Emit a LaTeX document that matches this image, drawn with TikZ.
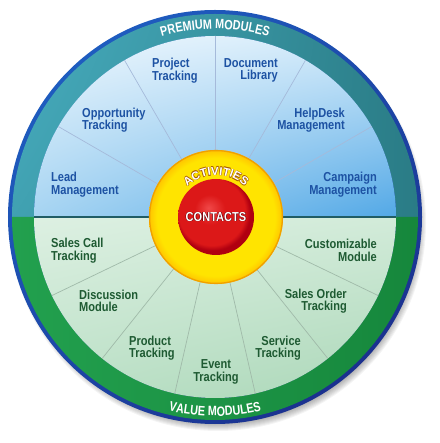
\documentclass[tikz,border=0pt]{standalone}
\usepackage{fontspec}
\setmainfont{Liberation Sans}
\newfontfamily\labfont{Liberation Sans}[FakeStretch=0.85]
\newfontfamily\ringfont{Liberation Sans}[FakeStretch=0.8]
\usetikzlibrary{decorations.text,calc,shadings}
\definecolor{topblue}{HTML}{1D52A3}
\definecolor{botgreen}{HTML}{1E5A32}
\definecolor{bordA}{HTML}{1F64C8}
\definecolor{bordB}{HTML}{1A2784}
\definecolor{tealA}{HTML}{48AEC0}
\definecolor{tealB}{HTML}{2A7C86}
\definecolor{greenA}{HTML}{22A04E}
\definecolor{greenB}{HTML}{16873C}
\definecolor{skyUL}{HTML}{EEF7FD}
\definecolor{skyUR}{HTML}{D2EAFA}
\definecolor{skyLL}{HTML}{A6D4F2}
\definecolor{skyLR}{HTML}{52A8E6}
\definecolor{mintUL}{HTML}{DDF0E2}
\definecolor{mintUR}{HTML}{D2EBD9}
\definecolor{mintLL}{HTML}{BDE1C8}
\definecolor{mintLR}{HTML}{ABD7B8}
\definecolor{yelA}{HTML}{FFF45A}
\definecolor{yelB}{HTML}{FFE400}
\definecolor{yelC}{HTML}{FFC400}
\definecolor{yelRim}{HTML}{F0A000}
\definecolor{redA}{HTML}{F04848}
\definecolor{redB}{HTML}{DC1818}
\definecolor{redC}{HTML}{B00010}
\definecolor{actOut}{HTML}{A85A00}
\definecolor{conOut}{HTML}{6A0008}
\pgfdeclareradialshading{yelshade}{\pgfpoint{0bp}{0bp}}{color(0bp)=(yelA); color(14bp)=(yelB); color(22bp)=(yelB); color(25bp)=(yelC); color(50bp)=(yelC)}
\pgfdeclareradialshading{redshade}{\pgfpoint{-5bp}{6bp}}{color(0bp)=(redA); color(10bp)=(redB); color(22bp)=(redB); color(25bp)=(redC); color(50bp)=(redC)}
\newcommand\haloed[3]{%
  \rlap{\kern#2\raisebox{-#2}{\color{#1}#3}}%
  \rlap{\kern-#2\raisebox{#2}{\color{#1}#3}}%
  \rlap{\kern#2\raisebox{#2}{\color{#1}#3}}%
  \rlap{\kern-#2\raisebox{-#2}{\color{#1}#3}}%
  #3}
\tikzset{
  toplab/.style={font=\labfont\bfseries\fontsize{13}{12.5}\selectfont, text=topblue, inner sep=0pt},
  botlab/.style={font=\labfont\bfseries\fontsize{13}{12.5}\selectfont, text=botgreen, inner sep=0pt},
  topspoke/.style={draw=topblue!40!white, line width=0.7pt},
  botspoke/.style={draw=botgreen!42!white, line width=0.7pt},
  divider/.style={draw=tealB!75!black, line width=1.1pt},
  actletter/.style={font=\bfseries\fontsize{11.5}{11.5}\selectfont, text=white, inner sep=0pt, anchor=base},
}
\begin{document}
\begin{tikzpicture}[x=1pt,y=1pt]
\useasboundingbox (-215,-226) rectangle (224,217);
% drop shadow
\foreach \i in {0,...,7} \fill[black, opacity=0.045] (3,-6) circle ({201+\i});
% outer border
\shade[upper left=bordA, upper right=bordA!60!bordB, lower left=bordA!50!bordB, lower right=bordB] (0,0) circle (207);
% ring halves
\shade[upper left=tealA, upper right=tealB, lower left=tealA!75!tealB, lower right=tealB]
  (-203,0) arc[start angle=180, end angle=0, radius=203] -- (181,0) arc[start angle=0, end angle=180, radius=181] -- cycle;
\shade[left color=greenA, right color=greenB]
  (-203,0) arc[start angle=180, end angle=360, radius=203] -- (181,0) arc[start angle=360, end angle=180, radius=181] -- cycle;
% inner halves
\shade[upper left=skyUL, upper right=skyUR, lower left=skyLL, lower right=skyLR]
  (-181,0) arc[start angle=180, end angle=0, radius=181] -- cycle;
\shade[upper left=mintUL, upper right=mintUR, lower left=mintLL, lower right=mintLR]
  (-181,0) arc[start angle=180, end angle=360, radius=181] -- cycle;
% spokes
\foreach \a in {30,60,...,150} \draw[topspoke] (\a:66) -- (\a:181);
\foreach \i in {1,...,6} \draw[botspoke] ({180+\i*180/7}:66) -- ({180+\i*180/7}:181);
\draw[divider] (-181,0) -- (181,0);
% ring texts
\path[decorate, decoration={text along path, text align=center, text color=white,
  text={|\ringfont\bfseries\fontsize{13.5}{13.5}\selectfont|PREMIUM MODULES}}]
  (120:188) arc[start angle=120, end angle=60, radius=188];
\path[decorate, decoration={text along path, text align=center, text color=white,
  text={|\ringfont\bfseries\fontsize{13.5}{13.5}\selectfont|VALUE MODULES}}]
  (240:199) arc[start angle=240, end angle=300, radius=199];
% center
\shade[shading=yelshade] (1,0) circle (67);
\draw[yelRim, line width=1.3pt] (1,0) circle (66.4);
\shade[shading=redshade] (1,0) circle (38);
% ACTIVITIES, letter by letter on an arc
\foreach \ch/\ang [count=\k] in {A/127.5, C/116.2, T/105.7, I/98.7, V/91.3, I/83.9, T/76.9, I/70.0, E/62.5, S/52.1}
  \node[actletter, rotate=\ang-90] (act\k) at ($(1,0)+(\ang:42)$) {\haloed{actOut}{0.45pt}{\ch}};
% CONTACTS
\node[font=\labfont\bfseries\fontsize{13}{13}\selectfont, text=white, inner sep=0pt] (contacts) at (1,0) {\haloed{conOut}{0.35pt}{CONTACTS}};
% labels top
\node[toplab, anchor=west, align=left] (project) at (-63,146.5) {Project\\Tracking};
\node[toplab, anchor=east, align=right] (document) at (63,146.5) {Document\\Library};
\node[toplab, anchor=west, align=left] (opportunity) at (-133,97) {Opportunity\\Tracking};
\node[toplab, anchor=east, align=right] (helpdesk) at (130,97) {HelpDesk\\Management};
\node[toplab, anchor=west, align=left] (lead) at (-164,32.5) {Lead\\Management};
\node[toplab, anchor=east, align=right] (campaign) at (162,32.5) {Campaign\\Management};
% labels bottom
\node[botlab, anchor=west, align=left] (salescall) at (-164,-33.5) {Sales Call\\Tracking};
\node[botlab, anchor=east, align=right] (custom) at (162,-33.5) {Customizable\\Module};
\node[botlab, anchor=west, align=left] (discussion) at (-136,-84) {Discussion\\Module};
\node[botlab, anchor=east, align=right] (salesorder) at (132,-84) {Sales Order\\Tracking};
\node[botlab, anchor=west, align=left] (product) at (-86,-131) {Product\\Tracking};
\node[botlab, anchor=east, align=right] (service) at (86,-131) {Service\\Tracking};
\node[botlab, align=center] (event) at (1,-155) {Event\\Tracking};
\end{tikzpicture}
\end{document}
